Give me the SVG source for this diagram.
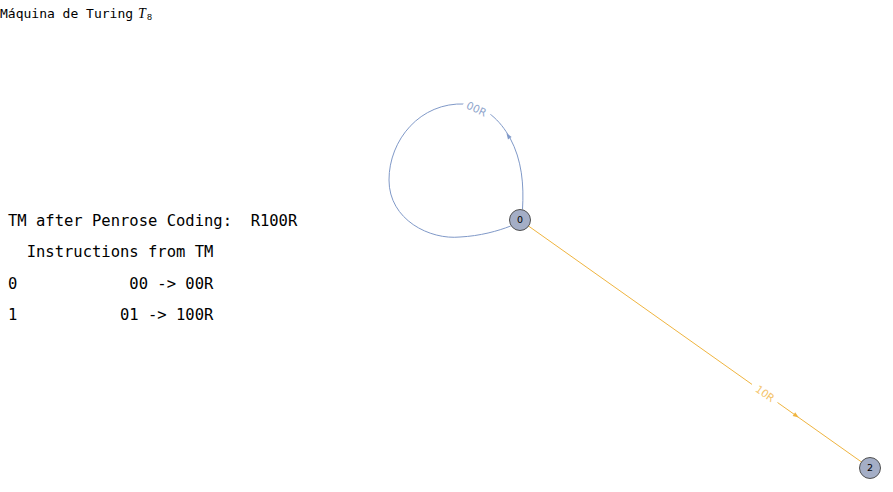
<svg xmlns="http://www.w3.org/2000/svg" width="893" height="492" viewBox="0 0 893 492">
<style>
.mono{font-family:"DejaVu Sans Mono","Liberation Mono",monospace;fill:#000}
.body{font-size:15.5px}
.title{font-size:13px}
.node circle{fill:#a4aec6;stroke:#505050;stroke-width:1}
.node text{font-family:"DejaVu Sans","Liberation Sans",sans-serif;font-size:9.5px;fill:#000;text-anchor:middle}
.elbl{font-family:"DejaVu Sans","Liberation Sans",sans-serif;font-size:10.5px;text-anchor:middle}
</style>
<defs>
<path id="ah" d="M1,0 L-5,-2.2 L-5,2.2 Z"/>
</defs>
<rect width="893" height="492" fill="#fff"/>
<g id="title">
<text class="mono title" x="0" y="17.5">Máquina de Turing</text>
<text x="138" y="17.5" font-family="Liberation Serif,serif" font-style="italic" font-size="14px">T</text>
<text x="147" y="19.5" font-family="Liberation Sans,sans-serif" font-size="9px">8</text>
</g>
<g id="info" class="mono body">
<text x="8" y="226" xml:space="preserve">TM after Penrose Coding:  R100R</text>
<text x="8" y="257" xml:space="preserve">  Instructions from TM</text>
<text x="8" y="288.5" xml:space="preserve">0            00 -&gt; 00R</text>
<text x="8" y="319.5" xml:space="preserve">1           01 -&gt; 100R</text>
</g>
<g id="connectors">
<g id="e00">
<path d="M522.5,209.5 C524,185 522,160 510,138 C500,120 485,106 465,104 C420,102 389,140 389,180 C389,220 430,240 460,237 C480,236 498,231 510.7,226" fill="none" stroke="#8099c8" stroke-width="1"/>
<rect x="-14.5" y="-5.5" width="29" height="11" fill="#fff" transform="translate(476.5,110) rotate(25)"/>
<use href="#ah" fill="#8099c8" transform="translate(507,134) rotate(-124)"/>
<text class="elbl" fill="#8fa5cc" transform="translate(476.5,109) rotate(25)" y="3.7">00R</text>
</g>
<g id="e10">
<line x1="520" y1="220" x2="752" y2="384.4" stroke="#efb43f" stroke-width="1"/>
<line x1="777.5" y1="402.5" x2="870" y2="468" stroke="#efb43f" stroke-width="1"/>
<use href="#ah" fill="#efb43f" transform="translate(798,417) rotate(35.3)"/>
<text class="elbl" fill="#f4c46a" transform="translate(765,393.6) rotate(35.3)" y="3.7">10R</text>
</g>
</g>
<g id="node0" class="node">
<circle cx="520" cy="220" r="10.5"/>
<text x="520" y="223.4">0</text>
</g>
<g id="node2" class="node">
<circle cx="870" cy="468" r="10.5"/>
<text x="870" y="471.4">2</text>
</g>
</svg>
